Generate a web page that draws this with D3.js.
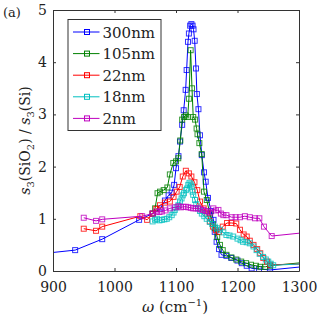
<!DOCTYPE html>
<html>
<head>
<meta charset="utf-8">
<script src="https://cdn.jsdelivr.net/npm/d3@7"></script>
<style>
  body { margin: 0; background: #fff; }
  svg text { font-family: "DejaVu Serif", "Liberation Serif", serif; fill: #222; }
</style>
</head>
<body>
<svg id="chart"></svg>
<script>
const w = 319, h = 319,
  m = { top: 10, right: 20, bottom: 48, left: 53 },
  xTicks = [900, 1000, 1100, 1200, 1300],
  yTicks = [0, 1, 2, 3, 4, 5],
  labels = ["300nm", "105nm", "22nm", "18nm", "2nm"],
  colors = ["#0000ff", "#008000", "#ff0000", "#00bfbf", "#bf00bf"];

// s3(SiO2)/s3(Si) vs wavenumber
const s300 = [[880,0.33],[936,0.40],[980,0.61],[1040,0.98],[1062,1.10],[1075,1.20],[1082,1.35],[1088,1.45],[1093,1.50],[1097,1.65],[1100,1.97],[1104,2.20],[1106.5,2.48],[1110,2.80],[1112.5,3.08],[1115.7,3.47],[1117.3,3.85],[1119.5,4.39],[1121,4.55],[1123,4.70],[1125,4.73],[1127,4.70],[1128.5,4.63],[1130.4,4.41],[1132.5,3.88],[1134,3.39],[1136.5,3.10],[1139,2.60],[1142,2.22],[1145.5,1.89],[1148.3,1.71],[1152,1.40],[1157,1.15],[1161,0.98],[1163,0.75],[1166,0.56],[1170,0.42],[1174,0.31],[1182,0.29],[1190,0.25],[1200,0.20],[1207,0.15],[1215,0.10],[1223,0.05],[1235,0.04],[1253,0.02],[1330,0.11]];
const s105 = [[1062,1.10],[1066,1.20],[1070,1.49],[1074,1.52],[1080,1.55],[1086,1.60],[1090,1.85],[1095.6,2.07],[1100,2.10],[1103.7,2.16],[1107,2.50],[1110,2.90],[1113,2.95],[1116,2.98],[1119,2.95],[1121,3.30],[1123.8,4.23],[1126,3.50],[1128,2.95],[1131,2.90],[1133.5,2.73],[1135,2.62],[1138,2.45],[1141.8,2.24],[1145.5,1.52],[1150,1.36],[1155,1.10],[1160,0.90],[1163,0.82],[1167,0.65],[1171.5,0.50],[1176,0.40],[1182,0.31],[1190,0.26],[1198,0.22],[1206,0.18],[1214,0.15],[1222,0.12],[1230,0.10],[1237,0.08],[1245,0.08],[1253,0.10],[1330,0.19]];
const s22 = [[950,0.81],[970,0.77],[980,0.85],[1042,1.05],[1053,0.98],[1062,1.10],[1068,1.19],[1074,1.26],[1082,1.31],[1090,1.33],[1096,1.42],[1101,1.52],[1106,1.61],[1111,1.81],[1116,1.92],[1121,1.87],[1125,1.81],[1130,1.70],[1134.6,1.55],[1139,1.33],[1145,1.20],[1150,1.10],[1155,0.95],[1160,0.85],[1165,0.78],[1170,0.75],[1176,0.85],[1183,0.92],[1190,0.92],[1198,0.91],[1204,0.79],[1210,0.70],[1215,0.66],[1220,0.58],[1226,0.50],[1232,0.42],[1237,0.34],[1242,0.25],[1248,0.18],[1253,0.12],[1330,0.14]];
const s18 = [[1062,0.95],[1066,0.98],[1069,1.00],[1073,0.97],[1077,0.98],[1081,0.99],[1085,1.00],[1089,1.03],[1093,1.07],[1096,1.12],[1098,1.17],[1101,1.22],[1104,1.26],[1106.5,1.33],[1109,1.39],[1111,1.45],[1113,1.49],[1116,1.55],[1118,1.58],[1120,1.65],[1122,1.69],[1124,1.66],[1125.5,1.62],[1127,1.52],[1128,1.46],[1131,1.36],[1133,1.28],[1136,1.20],[1139,1.15],[1142,1.10],[1146,1.05],[1150,1.00],[1155,0.94],[1159,0.90],[1163,0.85],[1167,0.82],[1171.5,0.79],[1177,0.74],[1182,0.69],[1187,0.68],[1193,0.66],[1200,0.62],[1205,0.59],[1209,0.56],[1215,0.55],[1220,0.53],[1226,0.47],[1231,0.40],[1236,0.33],[1241.5,0.27],[1246,0.22],[1250,0.18],[1254,0.14],[1258,0.11],[1330,0.15]];
const s2 = [[950,1.02],[970,0.96],[980,0.99],[1045,1.05],[1062,1.10],[1068,1.14],[1073,1.13],[1077,1.14],[1083,1.16],[1090,1.20],[1098,1.22],[1104,1.24],[1108,1.22],[1112,1.23],[1116,1.23],[1120,1.22],[1124,1.21],[1128,1.20],[1132,1.20],[1136,1.20],[1140,1.18],[1144,1.17],[1148,1.15],[1152,1.14],[1156,1.12],[1160.7,1.20],[1165,1.16],[1169,1.17],[1173,1.10],[1177,1.07],[1182,1.07],[1190.5,1.03],[1197,1.03],[1204,1.03],[1212,1.05],[1220,1.03],[1228.5,1.01],[1235.5,1.01],[1243,0.85],[1255.6,0.67],[1330,0.76]];

const series = [s300, s105, s22, s18, s2];

const x = d3.scaleLinear().domain([900, 1300]).range([m.left, w - m.right]);
const y = d3.scaleLinear().domain([0, 5]).range([h - m.bottom, m.top]);

const svg = d3.select("#chart")
  .attr("width", w)
  .attr("height", h)
  .attr("viewBox", [0, 0, w, h]);

svg.append("clipPath").attr("id", "clip")
  .append("rect")
  .attr("x", m.left).attr("y", m.top)
  .attr("width", x(1300) - m.left).attr("height", y(0) - m.top);

const line = d3.line().x(d => x(d[0])).y(d => y(d[1]));

const plot = svg.append("g").attr("clip-path", "url(#clip)");

series.forEach((s, i) => {
  const g = plot.append("g");
  g.append("path")
    .attr("d", line(s))
    .attr("fill", "none")
    .attr("stroke", colors[i])
    .attr("stroke-width", 1);
  g.selectAll("rect")
    .data(s.filter(d => d[0] <= 1300))
    .enter()
    .append("rect")
    .attr("x", d => x(d[0]) - 2.5)
    .attr("y", d => y(d[1]) - 2.5)
    .attr("width", 5)
    .attr("height", 5)
    .attr("fill", "none")
    .attr("stroke", colors[i])
    .attr("stroke-opacity", 0.8)
    .attr("stroke-width", 1);
});

// axes: ticks inside on all four sides
const tl = 3, fmt = d3.format("d");
svg.append("g")
  .attr("transform", `translate(0, ${y(0)})`)
  .call(d3.axisBottom(x).tickValues(xTicks).tickFormat(fmt).tickSizeInner(-tl).tickSizeOuter(0).tickPadding(11));
svg.append("g")
  .attr("transform", `translate(0, ${m.top})`)
  .call(d3.axisTop(x).tickValues(xTicks).tickSizeInner(-tl).tickSizeOuter(0).tickFormat(""));
svg.append("g")
  .attr("transform", `translate(${m.left}, 0)`)
  .call(d3.axisLeft(y).tickValues(yTicks).tickFormat(fmt).tickSizeInner(-tl).tickSizeOuter(0).tickPadding(6));
svg.append("g")
  .attr("transform", `translate(${w - m.right}, 0)`)
  .call(d3.axisRight(y).tickValues(yTicks).tickSizeInner(-tl).tickSizeOuter(0).tickFormat(""));

svg.selectAll(".domain").attr("stroke", "#333");
svg.selectAll(".tick line").attr("stroke", "#333");
svg.selectAll("g").attr("font-family", null);
svg.selectAll(".tick text")
  .style("font-size", "14px")
  .attr("fill", "#222");

// legend
const lg = svg.append("g");
lg.append("rect")
  .attr("x", 68).attr("y", 19.5)
  .attr("width", 93).attr("height", 111)
  .attr("fill", "#fff")
  .attr("stroke", "#333")
  .attr("stroke-width", 1);
labels.forEach((lab, i) => {
  const ly = 32 + i * 21.6;
  lg.append("line")
    .attr("x1", 73).attr("x2", 99.5)
    .attr("y1", ly).attr("y2", ly)
    .attr("stroke", colors[i]).attr("stroke-width", 1);
  lg.append("rect")
    .attr("x", 84.5).attr("y", ly - 2.5)
    .attr("width", 5).attr("height", 5)
    .attr("fill", "none").attr("stroke", colors[i]);
  lg.append("text")
    .attr("x", 102.5).attr("y", ly + 5.5)
    .style("font-size", "15px")
    .text(lab);
});

// axis titles
const xl = svg.append("text")
  .attr("x", 175).attr("y", 312)
  .attr("text-anchor", "middle")
  .style("font-size", "15px");
xl.append("tspan").style("font-style", "italic").text("ω");
xl.append("tspan").text(" (cm");
xl.append("tspan").attr("dy", -6).style("font-size", "10px").text("−1");
xl.append("tspan").attr("dy", 6).text(")");

const yl = svg.append("text")
  .attr("transform", `translate(30, ${(m.top + y(0)) / 2}) rotate(-90)`)
  .attr("text-anchor", "middle")
  .style("font-size", "14px");
yl.append("tspan").style("font-style", "italic").text("s");
yl.append("tspan").attr("dy", 4).style("font-size", "10px").text("3");
yl.append("tspan").attr("dy", -4).text("(SiO");
yl.append("tspan").attr("dy", 4).style("font-size", "10px").text("2");
yl.append("tspan").attr("dy", -4).text(") / ");
yl.append("tspan").style("font-style", "italic").text("s");
yl.append("tspan").attr("dy", 4).style("font-size", "10px").text("3");
yl.append("tspan").attr("dy", -4).text("(Si)");

svg.append("text")
  .attr("x", 3).attr("y", 17)
  .style("font-size", "13px")
  .text("(a)");
</script>
</body>
</html>
